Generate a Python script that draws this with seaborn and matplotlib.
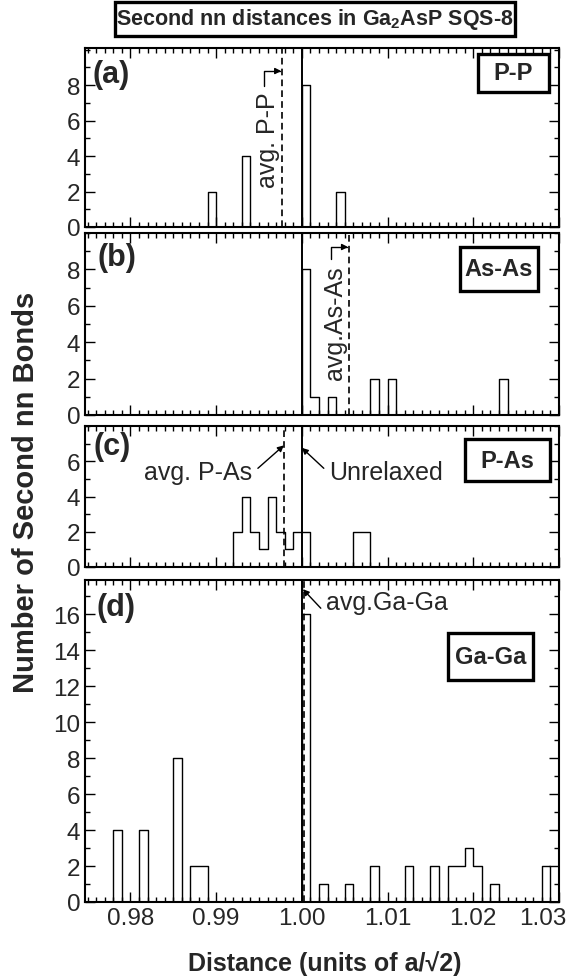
import numpy as np
import pandas as pd
import matplotlib
matplotlib.use("Agg")
import matplotlib.pyplot as plt
import matplotlib.transforms as mtransforms
from matplotlib.patches import Rectangle
import seaborn as sns
from matplotlib.ticker import MultipleLocator, FixedLocator

sns.set_theme(style="ticks")
plt.rcParams['font.family'] = ['Liberation Sans', 'DejaVu Sans']
plt.rcParams['mathtext.fontset'] = 'custom'
plt.rcParams['mathtext.rm'] = 'Liberation Sans'
plt.rcParams['mathtext.bf'] = 'Liberation Sans:bold'

# ---------------- data (bin centres, bin width 0.001) ----------------
pp_dist = [0.9895, 0.9935, 1.0005, 1.0045]
pp_count = [2, 4, 8, 2]

asas_dist = [1.0005, 1.0015, 1.0035, 1.0085, 1.0105, 1.0235]
asas_count = [8, 1, 1, 2, 2, 2]

pas_dist = [0.9925, 0.9935, 0.9945, 0.9955, 0.9965, 0.9975, 0.9985,
            0.9995, 1.0005, 1.0065, 1.0075]
pas_count = [2, 4, 2, 1, 4, 2, 1, 2, 2, 2, 2]

gaga_dist = [0.9785, 0.9815, 0.9855, 0.9875, 0.9885, 1.0005, 1.0025,
             1.0055, 1.0085, 1.0125, 1.0155, 1.0175, 1.0185, 1.0195,
             1.0205, 1.0225, 1.0285]
gaga_count = [4, 4, 8, 2, 2, 16, 1, 1, 2, 2, 2, 2, 2, 3, 2, 1, 2]

avg_pp = 0.9977
avg_asas = 1.0055
avg_pas = 0.9979
avg_gaga = 1.0003
unrelaxed = 1.000

x_ticks = [0.98, 0.99, 1.00, 1.01, 1.02, 1.03]
x_ticklabels = ["0.98", "0.99", "1.00", "1.01", "1.02", "1.03"]

bin_edges = [round(0.970 + 0.001 * k, 3) for k in range(65)]

W, H = 579, 978
fig = plt.figure(figsize=(W / 100, H / 100), dpi=100)
fig.patch.set_facecolor("white")

LEFT, RIGHT = 85, 559


def make_ax(top_px, bot_px):
    return fig.add_axes([LEFT / W, 1 - bot_px / H, (RIGHT - LEFT) / W,
                         (bot_px - top_px) / H])


panel_px = {"a": (49, 228), "b": (234, 416), "c": (427, 568), "d": (581, 903)}
ax_a = make_ax(*panel_px["a"])
ax_b = make_ax(*panel_px["b"])
ax_c = make_ax(*panel_px["c"])
ax_d = make_ax(*panel_px["d"])

panels = [
    ("a", ax_a, pp_dist, pp_count, avg_pp, 10.1, [0, 2, 4, 6, 8], "P-P",
     (478, 549, 55, 93)),
    ("b", ax_b, asas_dist, asas_count, avg_asas, 10.0, [0, 2, 4, 6, 8],
     "As-As", (460, 538, 248, 292)),
    ("c", ax_c, pas_dist, pas_count, avg_pas, 8.0, [0, 2, 4, 6], "P-As",
     (465, 550, 440, 482)),
    ("d", ax_d, gaga_dist, gaga_count, avg_gaga, 17.9,
     [0, 2, 4, 6, 8, 10, 12, 14, 16], "Ga-Ga", (448, 533, 634, 681)),
]

lab_px = {"a": (92, 75), "b": (97, 258), "c": (93, 447), "d": (96, 608)}

for key, ax, dist, cnt, avg, ytop, yt, name, box in panels:
    top_px, bot_px = panel_px[key]
    df = pd.DataFrame({"d": dist, "n": cnt})
    sns.histplot(data=df, x="d", weights="n", bins=bin_edges,
                 element="step", fill=False, color="black", linewidth=1.0,
                 ax=ax)
    ax.axvline(unrelaxed, color="black", lw=1.4)
    ax.axvline(avg, color="black", lw=1.2, ls=(0, (4, 2.5)))
    ax.set_xlim(0.9747, 1.0300)
    ax.set_ylim(0, ytop)
    ax.set_xlabel("")
    ax.set_ylabel("")
    ax.set_xticks(x_ticks)
    ax.xaxis.set_minor_locator(MultipleLocator(0.001))
    ax.yaxis.set_major_locator(FixedLocator(yt))
    ax.yaxis.set_minor_locator(MultipleLocator(1))
    ax.tick_params(which="both", direction="in", top=True, right=True,
                   color="black", width=1.0)
    ax.tick_params(which="major", length=7, labelsize=17.5, pad=3.5)
    ax.tick_params(which="minor", length=3.5)
    for s in ax.spines.values():
        s.set_visible(True)
        s.set_color("black")
        s.set_linewidth(1.5)
    ax.set_facecolor("white")
    if ax is ax_d:
        ax.set_xticklabels(x_ticklabels)
    else:
        ax.tick_params(labelbottom=False)

    def to_ax(px, py):
        return ((px - LEFT) / (RIGHT - LEFT),
                1 - (py - top_px) / (bot_px - top_px))

    lx, ly = to_ax(*lab_px[key])
    ax.text(lx, ly, f"({key})", transform=ax.transAxes, ha="left",
            va="center", fontsize=22, fontweight="bold")
    x0, y1 = to_ax(box[0], box[2])
    x1, y0 = to_ax(box[1], box[3])
    ax.add_patch(Rectangle((x0, y0), x1 - x0, y1 - y0,
                           transform=ax.transAxes, fc="white", ec="black",
                           lw=2.4, zorder=5))
    ax.text((x0 + x1) / 2, (y0 + y1) / 2, name, transform=ax.transAxes,
            ha="center", va="center", fontsize=17, fontweight="bold",
            zorder=6)

# shift the last x tick label left, as in the original
for lab in ax_d.get_xticklabels():
    if lab.get_text() == "1.03":
        lab.set_transform(lab.get_transform() +
                          mtransforms.ScaledTranslation(-0.16, 0,
                                                        fig.dpi_scale_trans))

arrow_kw = dict(arrowstyle="-|>", color="black", lw=1.0, mutation_scale=9,
                shrinkA=0, shrinkB=0)

# (a) avg. P-P
ax_a.text(0.99604, 4.97, "avg. P-P", rotation=90, ha="center", va="center",
          fontsize=18)
ax_a.annotate("", xy=(avg_pp - 0.0001, 8.8), xytext=(0.99557, 7.95),
              arrowprops=dict(connectionstyle="angle,angleA=90,angleB=0,rad=0",
                              **arrow_kw))
# (b) avg.As-As
ax_b.text(1.00385, 5.1, "avg.As-As", rotation=90, ha="center", va="center",
          fontsize=18)
ax_b.annotate("", xy=(avg_asas - 0.0001, 9.23), xytext=(1.00338, 8.55),
              arrowprops=dict(connectionstyle="angle,angleA=90,angleB=0,rad=0",
                              **arrow_kw))
# (c) avg. P-As / Unrelaxed
ax_c.text(0.98794, 5.4, "avg. P-As", ha="center", va="center", fontsize=18)
ax_c.annotate("", xy=(avg_pas, 6.9), xytext=(0.99487, 5.6),
              arrowprops=arrow_kw)
ax_c.text(1.00979, 5.4, "Unrelaxed", ha="center", va="center", fontsize=18)
ax_c.annotate("", xy=(unrelaxed, 6.76), xytext=(1.00256, 5.6),
              arrowprops=arrow_kw)
# (d) avg.Ga-Ga
ax_d.text(1.0028, 16.67, "avg.Ga-Ga", ha="left", va="center", fontsize=18)
ax_d.annotate("", xy=(1.00012, 17.39), xytext=(1.00221, 16.33),
              arrowprops=arrow_kw)

# title with box
fig.patches.append(Rectangle((115 / W, 1 - 37 / H), 400 / W, 34 / H,
                             transform=fig.transFigure, fc="white",
                             ec="black", lw=2.4))
fig.text(315 / W, 1 - 20 / H, r"Second nn distances in Ga$_\mathbf{2}$AsP SQS-8",
         ha="center", va="center", fontsize=15.5, fontweight="bold")

# axis labels
fig.text(26 / W, 1 - 492 / H, "Number of Second nn Bonds", rotation=90,
         ha="center", va="center", fontsize=21, fontweight="bold")
fig.text(325 / W, 1 - 964 / H, "Distance (units of a/\u221a2)",
         ha="center", va="center", fontsize=18, fontweight="bold")

fig.savefig("out.png", dpi=100, facecolor="white")
